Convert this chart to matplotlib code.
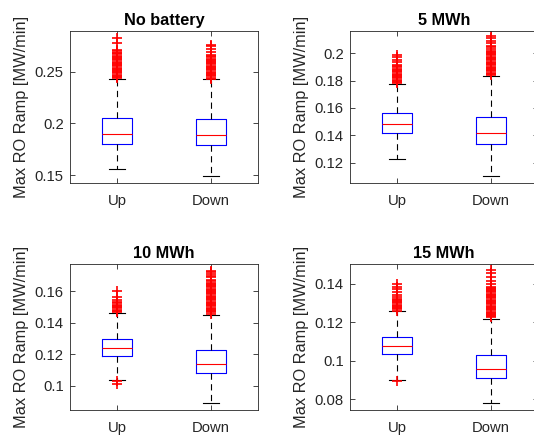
import matplotlib
matplotlib.use("Agg")
import matplotlib.pyplot as plt
from matplotlib.ticker import FormatStrFormatter

plt.rcParams['font.family'] = ['Liberation Sans', 'DejaVu Sans']
plt.rcParams['lines.scale_dashes'] = False

titulos = ['No battery', '5 MWh', '10 MWh', '15 MWh']
categorias = ['Up', 'Down']

# estadisticas: q1, mediana, q3, bigote inferior, bigote superior
q1 = [[0.180, 0.179], [0.1417, 0.1339], [0.1191, 0.1081], [0.1034, 0.0908]]
medianas = [[0.1894, 0.1887], [0.1486, 0.1415], [0.1240, 0.1138], [0.1074, 0.0956]]
q3 = [[0.2055, 0.2045], [0.1562, 0.1537], [0.1299, 0.1229], [0.1124, 0.1031]]
bigote_inf = [[0.1558, 0.1490], [0.1229, 0.1103], [0.1033, 0.0890], [0.0900, 0.0779]]
bigote_sup = [[0.2432, 0.2426], [0.1776, 0.1835], [0.1464, 0.1452], [0.1256, 0.1218]]

# valores atipicos (cruces rojas)
atipicos = [
    [[0.2437, 0.2448, 0.2460, 0.2471, 0.2483, 0.2494, 0.2506, 0.2517, 0.2529,
      0.2540, 0.2552, 0.2563, 0.2575, 0.2586, 0.2598, 0.2609, 0.2621, 0.2632,
      0.2644, 0.2655, 0.2667, 0.2678, 0.2684, 0.2700, 0.2712, 0.2778, 0.2826],
     [0.2432, 0.2443, 0.2455, 0.2466, 0.2478, 0.2489, 0.2501, 0.2512, 0.2524,
      0.2535, 0.2547, 0.2558, 0.2570, 0.2581, 0.2593, 0.2604, 0.2616, 0.2627,
      0.2639, 0.2650, 0.2662, 0.2690, 0.2723, 0.2745, 0.2756]],
    [[0.1780, 0.1789, 0.1798, 0.1807, 0.1816, 0.1825, 0.1834, 0.1843, 0.1852,
      0.1861, 0.1870, 0.1879, 0.1888, 0.1897, 0.1906, 0.1915, 0.1935, 0.1954,
      0.1970, 0.1986],
     [0.1840, 0.1849, 0.1858, 0.1867, 0.1876, 0.1885, 0.1894, 0.1903, 0.1912,
      0.1921, 0.1930, 0.1939, 0.1948, 0.1957, 0.1966, 0.1975, 0.1984, 0.1993,
      0.2002, 0.2011, 0.2020, 0.2029, 0.2045, 0.2056, 0.2075, 0.2093, 0.2110,
      0.2129]],
    [[0.1008, 0.1027, 0.1468, 0.1476, 0.1484, 0.1492, 0.1500, 0.1508, 0.1516,
      0.1524, 0.1532, 0.1545, 0.1562, 0.1602],
     [0.1458, 0.1466, 0.1474, 0.1481, 0.1489, 0.1496, 0.1504, 0.1512, 0.1519,
      0.1527, 0.1534, 0.1542, 0.1550, 0.1557, 0.1565, 0.1572, 0.1580, 0.1588,
      0.1595, 0.1603, 0.1610, 0.1618, 0.1626, 0.1633, 0.1641, 0.1648, 0.1656,
      0.1664, 0.1671, 0.1690, 0.1700, 0.1711, 0.1722, 0.1732]],
    [[0.0895, 0.1260, 0.1266, 0.1272, 0.1278, 0.1285, 0.1291, 0.1297, 0.1303,
      0.1309, 0.1316, 0.1322, 0.1328, 0.1343, 0.1357, 0.1371, 0.1384, 0.1398],
     [0.1224, 0.1230, 0.1236, 0.1242, 0.1249, 0.1255, 0.1261, 0.1267, 0.1273,
      0.1280, 0.1286, 0.1292, 0.1298, 0.1304, 0.1311, 0.1317, 0.1323, 0.1329,
      0.1335, 0.1342, 0.1348, 0.1354, 0.1360, 0.1366, 0.1373, 0.1379, 0.1385,
      0.1398, 0.1415, 0.1436, 0.1454, 0.1471]],
]

limites_y = [(0.1423, 0.2894), (0.1051, 0.2163), (0.0845, 0.1774), (0.0743, 0.1502)]
ticks_y = [[0.15, 0.2, 0.25], [0.12, 0.14, 0.16, 0.18, 0.2],
           [0.1, 0.12, 0.14, 0.16], [0.08, 0.1, 0.12, 0.14]]

W, H = 534, 436
# posicion de los ejes en pixeles (izq, arriba, ancho, alto)
cajas_px = [(70, 31, 188, 152), (350, 31, 188, 152),
            (70, 264, 188, 146), (350, 264, 188, 146)]

fig = plt.figure(figsize=(W / 100, H / 100), dpi=100)
gris = '#262626'

for k in range(4):
    x0, y0, w, h = cajas_px[k]
    ax = fig.add_axes([x0 / W, 1 - (y0 + h) / H, w / W, h / H])
    stats = []
    for j in range(2):
        stats.append(dict(q1=q1[k][j], med=medianas[k][j], q3=q3[k][j],
                          whislo=bigote_inf[k][j], whishi=bigote_sup[k][j],
                          fliers=atipicos[k][j]))
    partes = ax.bxp(stats, positions=[1, 2], widths=0.31, capwidths=0.16,
                    boxprops=dict(color='blue', linewidth=0.8),
                    medianprops=dict(color='red', linewidth=0.8),
                    whiskerprops=dict(color='black', linewidth=0.8,
                                      linestyle=(0, (4.5, 3.2))),
                    capprops=dict(color='black', linewidth=0.8),
                    flierprops=dict(marker='+', markeredgecolor='red',
                                    markersize=6.5, markeredgewidth=1.2,
                                    linestyle='none'))
    for f in partes['fliers']:
        f.set_snap(False)
    ax.set_xlim(0.5, 2.5)
    ax.set_ylim(*limites_y[k])
    ax.set_yticks(ticks_y[k])
    ax.yaxis.set_major_formatter(FormatStrFormatter('%g'))
    ax.set_xticks([1, 2])
    ax.set_xticklabels(categorias)
    ax.tick_params(direction='in', top=True, right=True, length=3.5, width=0.6,
                   color=gris, labelcolor=gris, labelsize=10.7)
    ax.tick_params(axis='x', pad=8)
    ax.tick_params(axis='y', pad=4.5)
    for s in ax.spines.values():
        s.set_color(gris)
        s.set_linewidth(0.6)
    ax.set_title(titulos[k], fontsize=11.7, fontweight='bold', pad=4.5)
    ax.set_ylabel('Max RO Ramp [MW/min]', fontsize=11.8, color=gris)
    ax.yaxis.set_label_coords(-0.22, 0.5)

fig.savefig('out.png', dpi=100)
